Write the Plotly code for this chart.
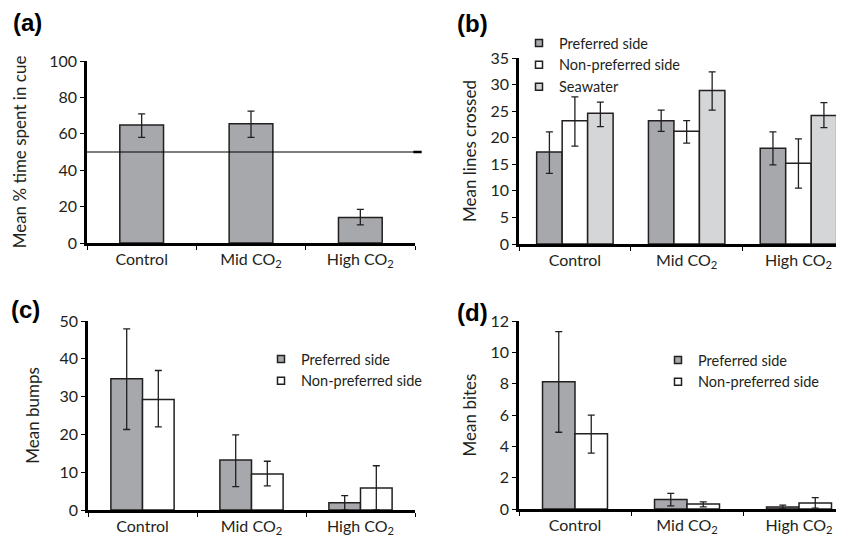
import plotly.graph_objects as go

# ---------------- data ----------------
categories = ["Control", "Mid CO<sub>2</sub>", "High CO<sub>2</sub>"]

# (a) mean % time spent in cue
a_mean = [64.8, 65.5, 14.0]
a_upper = [71.0, 72.5, 18.5]
a_lower = [58.0, 58.0, 10.0]
a_reference = 50

# (b) mean lines crossed
b_pref = [17.3, 23.2, 18.0]
b_pref_upper = [21.1, 25.2, 21.1]
b_pref_lower = [13.3, 21.2, 14.9]
b_nonpref = [23.2, 21.2, 15.2]
b_nonpref_upper = [27.7, 23.2, 19.8]
b_nonpref_lower = [18.4, 19.0, 10.5]
b_sea = [24.6, 28.9, 24.2]
b_sea_upper = [26.7, 32.4, 26.6]
b_sea_lower = [22.1, 25.2, 21.9]

# (c) mean bumps
c_pref = [34.7, 13.2, 1.9]
c_pref_upper = [47.9, 19.9, 3.8]
c_pref_lower = [21.3, 6.2, 0.0]
c_nonpref = [29.2, 9.5, 5.8]
c_nonpref_upper = [36.9, 12.9, 11.7]
c_nonpref_lower = [22.0, 6.4, 0.0]

# (d) mean bites
d_pref = [8.13, 0.6, 0.13]
d_pref_upper = [11.32, 1.0, 0.25]
d_pref_lower = [4.9, 0.2, 0.0]
d_nonpref = [4.8, 0.32, 0.38]
d_nonpref_upper = [5.99, 0.45, 0.72]
d_nonpref_lower = [3.57, 0.13, 0.06]

# ---------------- style ----------------
DARK = "#a6a8ab"
LIGHT = "#d5d6d8"
WHITE = "#ffffff"
EDGE = "#231f20"
FONT = "Lato"
OFF = 8                 # page body margin
W, H = 836, 531         # figure size (fits the 844x539 window after the body margin)


def err(mean, upper, lower):
    return dict(
        type="data", symmetric=False,
        array=[u - m for u, m in zip(upper, mean)],
        arrayminus=[m - l for m, l in zip(mean, lower)],
        color=EDGE, thickness=1.3, width=3.5,
    )


def bar(mean, upper, lower, color, xa, ya, width, offset, name, legend):
    return go.Bar(
        x=categories, y=mean, xaxis=xa, yaxis=ya, width=width, offset=offset,
        marker=dict(color=color, line=dict(color=EDGE, width=1.5)),
        error_y=err(mean, upper, lower), name=name, showlegend=False,
        legend=legend,
    )


def legend_entry(name, color, legend):
    return go.Scatter(
        x=[None], y=[None], mode="markers", name=name, legend=legend,
        marker=dict(symbol="square", size=7, color=color,
                    line=dict(color=EDGE, width=1.5)),
        showlegend=True,
    )


fig = go.Figure()

# (a)
fig.add_trace(bar(a_mean, a_upper, a_lower, DARK, "x", "y", 0.4, -0.2, "Mean", "legend"))

# (b)
fig.add_trace(bar(b_pref, b_pref_upper, b_pref_lower, DARK, "x2", "y2", 0.228, -0.342, "Preferred side", "legend"))
fig.add_trace(bar(b_nonpref, b_nonpref_upper, b_nonpref_lower, WHITE, "x2", "y2", 0.228, -0.114, "Non-preferred side", "legend"))
fig.add_trace(bar(b_sea, b_sea_upper, b_sea_lower, LIGHT, "x2", "y2", 0.228, 0.114, "Seawater", "legend"))
fig.add_trace(legend_entry("Preferred side", DARK, "legend"))
fig.add_trace(legend_entry("Non-preferred side", WHITE, "legend"))
fig.add_trace(legend_entry("Seawater", LIGHT, "legend"))

# (c)
fig.add_trace(bar(c_pref, c_pref_upper, c_pref_lower, DARK, "x3", "y3", 0.29, -0.29, "Preferred side", "legend2"))
fig.add_trace(bar(c_nonpref, c_nonpref_upper, c_nonpref_lower, WHITE, "x3", "y3", 0.29, 0.0, "Non-preferred side", "legend2"))
fig.add_trace(legend_entry("Preferred side", DARK, "legend2"))
fig.add_trace(legend_entry("Non-preferred side", WHITE, "legend2"))

# (d)
fig.add_trace(bar(d_pref, d_pref_upper, d_pref_lower, DARK, "x4", "y4", 0.29, -0.29, "Preferred side", "legend3"))
fig.add_trace(bar(d_nonpref, d_nonpref_upper, d_nonpref_lower, WHITE, "x4", "y4", 0.29, 0.0, "Non-preferred side", "legend3"))
fig.add_trace(legend_entry("Preferred side", DARK, "legend3"))
fig.add_trace(legend_entry("Non-preferred side", WHITE, "legend3"))


def px_x(p):
    return (p - OFF) / W


def px_y(p):
    return 1 - (p - OFF) / H


tickfont = dict(family=FONT, size=16, color=EDGE)
titlefont = dict(family=FONT, size=17, color=EDGE)

common_x = dict(
    type="category", showline=True, linecolor="black", linewidth=2.5,
    ticks="outside", tickson="boundaries", ticklen=4, tickwidth=1.3, tickcolor="black",
    showgrid=False, zeroline=False, tickfont=tickfont, fixedrange=True,
)
common_y = dict(
    showline=True, linecolor="black", linewidth=2.5,
    ticks="outside", ticklen=4, tickwidth=1.3, tickcolor="black",
    showgrid=False, zeroline=False, tickfont=tickfont, title_font=titlefont,
    fixedrange=True,
)

legend_common = dict(xanchor="left", yanchor="top", bgcolor="rgba(0,0,0,0)",
                     font=dict(family=FONT, size=14.5, color=EDGE),
                     tracegroupgap=0, itemwidth=30, borderwidth=0)

layout = dict(
    width=W, height=H,
    margin=dict(l=0, r=0, t=0, b=0, autoexpand=False),
    paper_bgcolor="white", plot_bgcolor="white",
    barmode="overlay",
    font=dict(family=FONT, color=EDGE),
    xaxis=dict(common_x, domain=[px_x(87), px_x(415)], range=[-0.5, 2.5], anchor="y"),
    yaxis=dict(common_y, domain=[px_y(243), px_y(61)], range=[0, 100], dtick=20, anchor="x",
               title=dict(text="Mean % time spent in cue", standoff=19)),
    xaxis2=dict(common_x, domain=[px_x(519), px_x(837)], range=[-0.5, 2.345], anchor="y2"),
    yaxis2=dict(common_y, domain=[px_y(244), px_y(58)], range=[0, 35], dtick=5, anchor="x2",
                title=dict(text="Mean lines crossed", standoff=10)),
    xaxis3=dict(common_x, domain=[px_x(88), px_x(415)], range=[-0.5, 2.5], anchor="y3"),
    yaxis3=dict(common_y, domain=[px_y(510), px_y(321)], range=[0, 50], dtick=10, anchor="x3",
                title=dict(text="Mean bumps", standoff=16)),
    xaxis4=dict(common_x, domain=[px_x(519), px_x(839)], range=[-0.5, 2.357], anchor="y4"),
    yaxis4=dict(common_y, domain=[px_y(509), px_y(321)], range=[0, 12], dtick=2, anchor="x4",
                title=dict(text="Mean bites", standoff=10)),
    legend=dict(legend_common, x=px_x(519), y=px_y(27)),
    legend2=dict(legend_common, x=px_x(261), y=px_y(343)),
    legend3=dict(legend_common, x=px_x(658), y=px_y(344)),
)
fig.update_layout(**layout)

# reference line at 50 in panel (a)
fig.add_shape(type="line", xref="x domain", yref="y", x0=0, x1=1.02,
              y0=a_reference, y1=a_reference, line=dict(color="black", width=1.2))
fig.add_shape(type="line", xref="x domain", yref="y", x0=0.995, x1=1.02,
              y0=a_reference, y1=a_reference, line=dict(color="black", width=2.5))

# panel labels
panel_font = dict(family="Liberation Sans", size=24, color="black")
for label, xp, yp in [("<b>(a)</b>", 12, 23), ("<b>(b)</b>", 456, 24),
                      ("<b>(c)</b>", 10, 309), ("<b>(d)</b>", 456, 312)]:
    fig.add_annotation(text=label, xref="paper", yref="paper", x=px_x(xp), y=px_y(yp),
                       xanchor="left", yanchor="middle", showarrow=False, borderpad=0,
                       font=panel_font)

fig.write_html("out.html")
